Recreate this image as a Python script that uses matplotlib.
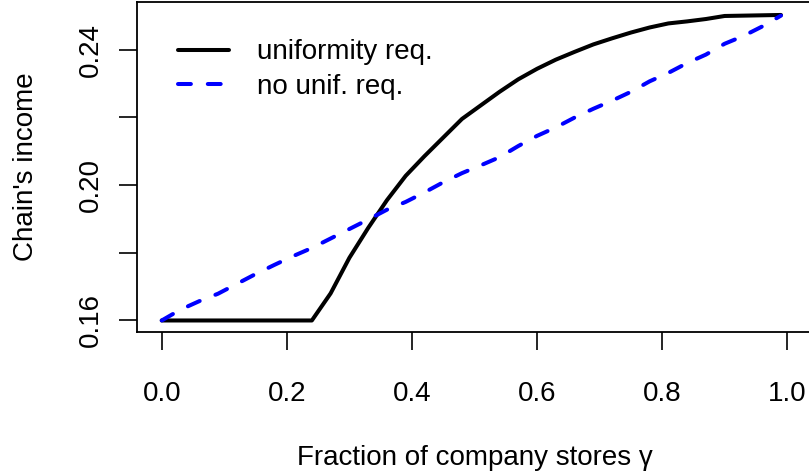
import matplotlib
matplotlib.use('Agg')
import matplotlib.pyplot as plt
import numpy as np

plt.rcParams['font.family'] = ['Liberation Sans', 'DejaVu Sans']

# fraction of company stores (gamma)
gamma = np.round(np.arange(0, 1.0, 0.03), 2)

# chain's income, with uniformity requirement
income_unif = [0.1600, 0.1600, 0.1600, 0.1600, 0.1600, 0.1600, 0.1600, 0.1600,
               0.1600, 0.1680, 0.1785, 0.1873, 0.1955, 0.2027, 0.2085, 0.2140,
               0.2195, 0.2235, 0.2275, 0.2312, 0.2343, 0.2370, 0.2393, 0.2415,
               0.2433, 0.2450, 0.2465, 0.2477, 0.2483, 0.2490, 0.2499, 0.2500,
               0.2501, 0.2502]

# chain's income, no uniformity requirement
income_nounif = [0.1600, 0.1632, 0.1657, 0.1679, 0.1708, 0.1737, 0.1764, 0.1790,
                 0.1814, 0.1842, 0.1870, 0.1898, 0.1927, 0.1950, 0.1978, 0.2008,
                 0.2035, 0.2058, 0.2082, 0.2115, 0.2145, 0.2170, 0.2199, 0.2225,
                 0.2249, 0.2275, 0.2306, 0.2331, 0.2360, 0.2385, 0.2417, 0.2440,
                 0.2468, 0.2500]

xticks = [0.0, 0.2, 0.4, 0.6, 0.8, 1.0]
yticks = [0.16, 0.18, 0.20, 0.22, 0.24]
ylabels = ['0.16', '', '0.20', '', '0.24']

fs = 20
fig = plt.figure(figsize=(8.09, 4.74), dpi=100)
ax = fig.add_axes([0.169, 0.2996, 0.835, 0.696])

ax.plot(gamma, income_unif, color='black', lw=2.9, solid_capstyle='round',
        label='uniformity req.')
ax.plot(gamma, income_nounif, color='blue', lw=2.9, dashes=(3.2, 4.2),
        dash_capstyle='round', label='no unif. req.')

ax.set_xlim(-0.04, 1.04)
ax.set_ylim(0.1566, 0.2540)
ax.set_xticks(xticks)
ax.set_xticklabels(['%.1f' % v for v in xticks])
ax.set_yticks(yticks)
ax.set_yticklabels(ylabels)

for s in ax.spines.values():
    s.set_linewidth(1.3)
ax.tick_params(axis='both', length=13, width=1.2, labelsize=fs)
ax.tick_params(axis='x', pad=22)
ax.tick_params(axis='y', pad=11, labelrotation=90)
for lbl in ax.get_yticklabels():
    lbl.set_va('center')

ax.set_xlabel('Fraction of company stores γ', fontsize=fs)
ax.xaxis.set_label_coords(0.5, -0.381)
ax.xaxis.label.set_va('center')
ax.set_ylabel("Chain's income", fontsize=fs)
ax.yaxis.set_label_coords(-0.164, 0.5)
ax.yaxis.label.set_va('center')

ax.legend(loc='upper left', bbox_to_anchor=(0.061, 0.887), frameon=False,
          borderaxespad=0, borderpad=0, fontsize=fs, handlelength=1.85,
          handletextpad=1.0, labelspacing=0.3)

fig.savefig('out.png', dpi=100)
